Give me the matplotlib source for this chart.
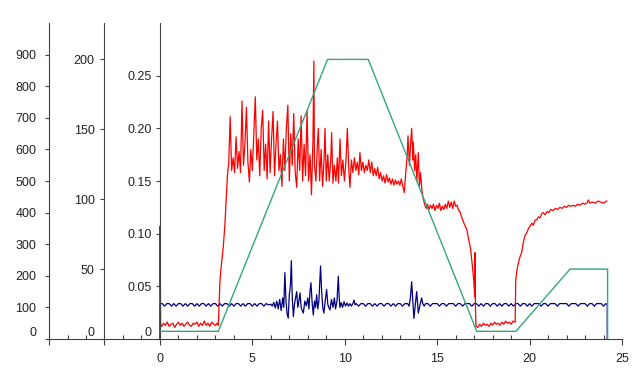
import numpy as np
import matplotlib.pyplot as plt
from matplotlib.ticker import MultipleLocator

plt.rcParams['font.family'] = ['Liberation Sans', 'DejaVu Sans']
plt.rcParams['font.size'] = 9

# ---- green trace (middle axis, 0..200) ----
green_t = [0.0, 3.16, 9.07, 11.27, 17.14, 19.26, 22.19, 24.22, 24.22]
green_v = [5.5, 5.5, 200, 200, 5.5, 5.5, 50, 50, 0]

# ---- red trace (inner axis, 0..0.30), read as (time, value) ----
red_start = [(0.0, 0.0), (0.0, 0.107), (0.02, 0.060), (0.04, 0.014)]
red_idle = [(0.1, .012), (0.2, .015), (0.3, .013), (0.4, .016), (0.5, .012),
            (0.6, .014), (0.7, .015), (0.8, .011), (0.9, .014), (1.0, .016),
            (1.1, .013), (1.2, .015), (1.3, .012), (1.4, .014), (1.5, .016),
            (1.6, .013), (1.7, .012), (1.8, .015), (1.9, .014), (2.0, .016),
            (2.1, .012), (2.2, .015), (2.3, .013), (2.4, .017), (2.5, .013),
            (2.6, .015), (2.7, .012), (2.8, .016), (2.9, .014), (3.0, .013),
            (3.1, .015)]
red_rise = [(3.16, .013), (3.25, .056), (3.35, .075), (3.43, .088), (3.52, .110),
            (3.58, .130), (3.65, .155), (3.70, .164)]
red_noisy = [
    (3.72, .165), (3.80, .211), (3.88, .160), (3.96, .172), (4.04, .158),
    (4.12, .192), (4.20, .162), (4.28, .178), (4.36, .158), (4.44, .226),
    (4.52, .165), (4.60, .185), (4.68, .220), (4.76, .168), (4.84, .149),
    (4.92, .180), (5.00, .160), (5.08, .195), (5.16, .230), (5.24, .170),
    (5.32, .190), (5.40, .155), (5.48, .200), (5.56, .217), (5.64, .160),
    (5.72, .185), (5.80, .152), (5.88, .207), (5.96, .158), (6.04, .190),
    (6.12, .216), (6.20, .155), (6.28, .185), (6.36, .207), (6.44, .160),
    (6.52, .175), (6.60, .145), (6.68, .190), (6.76, .160), (6.84, .200),
    (6.92, .222), (7.00, .150), (7.08, .195), (7.16, .165), (7.24, .214),
    (7.32, .158), (7.40, .144), (7.48, .190), (7.56, .160), (7.64, .212),
    (7.72, .150), (7.80, .185), (7.88, .155), (7.96, .217), (8.04, .150),
    (8.12, .175), (8.20, .137), (8.28, .190), (8.33, .264), (8.36, .165),
    (8.44, .150), (8.52, .185), (8.57, .200), (8.64, .150), (8.72, .180),
    (8.80, .145), (8.88, .170), (8.93, .200), (9.00, .150), (9.08, .175),
    (9.16, .150), (9.24, .170), (9.29, .196), (9.36, .148), (9.44, .165),
    (9.52, .150), (9.60, .172), (9.66, .148), (9.74, .190), (9.82, .155),
    (9.90, .170), (9.98, .150), (10.06, .168), (10.14, .200), (10.22, .160),
    (10.28, .144), (10.36, .170), (10.44, .158), (10.52, .172), (10.60, .160),
    (10.68, .168), (10.76, .156), (10.82, .177), (10.90, .160), (10.98, .168),
    (11.06, .158), (11.14, .165), (11.22, .160), (11.30, .170), (11.38, .158),
    (11.46, .168), (11.54, .155), (11.62, .162), (11.70, .155), (11.78, .163),
    (11.86, .152), (11.94, .158), (12.02, .150), (12.10, .155), (12.18, .148),
    (12.26, .156), (12.34, .149), (12.42, .153), (12.50, .147), (12.58, .152),
    (12.66, .146), (12.74, .151), (12.82, .147), (12.90, .150), (12.98, .146),
    (13.06, .152), (13.14, .145), (13.22, .139), (13.30, .158), (13.38, .175),
    (13.42, .193), (13.50, .165), (13.56, .185), (13.62, .200), (13.68, .170),
    (13.71, .187), (13.78, .160), (13.84, .175), (13.90, .150), (13.98, .177),
    (14.04, .145), (14.10, .158), (14.18, .140), (14.25, .133), (14.32, .128)]
red_shelf = [
    (14.40, .124), (14.48, .128), (14.56, .123), (14.64, .127), (14.72, .124),
    (14.80, .128), (14.88, .122), (14.96, .127), (15.04, .124), (15.12, .129),
    (15.20, .122), (15.28, .126), (15.36, .123), (15.44, .128), (15.52, .124),
    (15.60, .131), (15.68, .125), (15.76, .130), (15.84, .124), (15.92, .131),
    (16.00, .126), (16.08, .127), (16.16, .122), (16.23, .121)]
red_fall = [(16.32, .116), (16.42, .111), (16.50, .108), (16.60, .104), (16.70, .095),
            (16.81, .085), (16.90, .070), (16.99, .053), (17.03, .040), (17.05, .082),
            (17.07, .030), (17.10, .012)]
red_low = [(17.2, .011), (17.3, .014), (17.4, .012), (17.5, .015), (17.6, .013),
           (17.7, .014), (17.8, .012), (17.9, .015), (18.0, .013), (18.1, .016),
           (18.2, .014), (18.3, .015), (18.4, .013), (18.5, .016), (18.6, .014),
           (18.7, .017), (18.8, .015), (18.9, .016), (19.0, .014), (19.1, .017),
           (19.22, .016)]
red_recover = [
    (19.25, .056), (19.32, .066), (19.39, .072), (19.48, .078), (19.57, .082),
    (19.66, .092), (19.75, .098), (19.85, .101), (19.94, .105), (20.02, .107),
    (20.12, .110), (20.20, .108), (20.30, .113), (20.38, .113), (20.48, .116),
    (20.56, .115), (20.66, .119), (20.74, .120), (20.84, .118), (20.94, .121),
    (21.04, .120), (21.14, .123), (21.28, .122), (21.40, .124), (21.52, .123),
    (21.64, .125), (21.76, .124), (21.88, .126), (22.00, .125), (22.12, .127),
    (22.24, .126), (22.36, .127), (22.48, .126), (22.60, .128), (22.73, .127),
    (22.86, .129), (22.98, .128), (23.10, .129), (23.18, .132), (23.26, .129),
    (23.40, .130), (23.55, .129), (23.70, .131), (23.85, .130), (24.00, .129),
    (24.17, .131)]

# ---- blue trace (outer axis, 0..1000) ----
blue_start = [(0.0, 0.0), (0.0, 112)]
# quiet stretches, sampled every 0.125 s
blue_step = 0.125
blue_idle_v = [112, 104, 112, 112, 104, 112, 104, 112, 112, 104, 112, 104, 112, 112,
               104, 112, 104, 112, 112, 104, 112, 104, 112, 112, 104, 112, 104, 112,
               112, 104, 112, 104, 112, 112, 104, 112, 104, 112, 112, 104, 112, 104,
               112, 112, 104, 112, 108]
blue_burst1 = [
    (6.00, 110), (6.08, 104), (6.16, 116), (6.24, 98), (6.32, 120), (6.40, 95),
    (6.48, 125), (6.56, 90), (6.64, 130), (6.70, 100), (6.76, 210), (6.82, 120),
    (6.88, 80), (6.94, 66), (7.00, 140), (7.06, 170), (7.11, 248), (7.16, 130),
    (7.22, 71), (7.28, 110), (7.34, 130), (7.40, 150), (7.46, 100), (7.52, 120),
    (7.58, 146), (7.64, 100), (7.70, 90), (7.76, 82), (7.84, 120), (7.92, 105),
    (8.00, 130), (8.06, 95), (8.12, 150), (8.17, 178), (8.24, 110), (8.30, 76),
    (8.36, 120), (8.42, 100), (8.48, 140), (8.54, 95), (8.60, 120), (8.65, 180),
    (8.69, 231), (8.75, 150), (8.81, 100), (8.87, 82), (8.94, 120), (9.02, 157),
    (9.08, 110), (9.14, 100), (9.20, 92), (9.28, 125), (9.36, 100), (9.44, 130),
    (9.50, 95), (9.58, 120), (9.65, 199), (9.70, 130), (9.74, 100), (9.80, 115),
    (9.88, 100), (9.96, 118), (10.04, 104), (10.12, 114), (10.20, 104),
    (10.28, 112), (10.36, 104), (10.44, 112), (10.50, 123), (10.56, 108)]
blue_mid_v = [112, 104, 112, 112, 104, 112, 112, 104, 112, 104, 112, 112, 104, 112,
              112, 104, 112, 104, 112, 112, 104, 112, 112]
blue_burst2 = [
    (13.40, 112), (13.48, 104), (13.55, 130), (13.62, 181), (13.68, 120),
    (13.74, 65), (13.80, 100), (13.89, 150), (13.94, 110), (13.98, 82),
    (14.06, 105), (14.16, 130), (14.22, 112), (14.30, 104)]
blue_tail_v = [112, 112, 104, 112, 112, 112, 104, 112, 112, 104, 112, 112, 112, 104,
               112, 112, 104, 112, 112, 112, 104, 112, 112, 104, 112, 104, 112, 112,
               104, 112, 112, 104, 112, 104, 112, 112, 104, 112, 104, 112, 112, 104,
               112, 112, 104, 112, 104, 112, 112, 112, 104, 112, 112, 104, 112, 112,
               112, 104, 112, 112, 112, 112, 104, 112, 112, 112, 104, 112, 112, 112,
               104, 112, 112, 104, 112, 112, 112, 104, 112]
blue_end = [(24.2, 110), (24.2, 0)]


def pairs(seq):
    t, v = zip(*seq)
    return list(t), list(v)


def grid(t0, vals):
    return [(t0 + blue_step * i, v) for i, v in enumerate(vals)]


red_t, red_v = pairs(red_start + red_idle + red_rise + red_noisy + red_shelf
                     + red_fall + red_low + red_recover)
blue_t, blue_v = pairs(blue_start + grid(0.125, blue_idle_v) + blue_burst1
                       + grid(10.625, blue_mid_v) + blue_burst2
                       + grid(14.375, blue_tail_v) + blue_end)

spine_col = '#404040'
text_col = '#222222'

fig = plt.figure(figsize=(6.4, 3.82), dpi=100)
ax = fig.add_axes([0.0766, 0.1126, 0.8953, 0.827])
ax.set_xlim(-6, 25)

# outer axis (blue)
ax.set_ylim(0, 1000)
ax.plot(blue_t, blue_v, color='#000080', lw=0.9, zorder=3)

# inner axis at x=0 (red)
ax_red = ax.twinx()
ax_red.set_ylim(0, 0.30)
ax_red.plot(red_t, red_v, color='#ff0000', lw=0.9)

# middle axis at x=-3 (green)
ax_grn = ax.twinx()
ax_grn.set_ylim(0, 226)
ax_grn.plot(green_t, green_v, color='#33a680', lw=1.0)

for a in (ax, ax_red, ax_grn):
    for s in ('top', 'right'):
        a.spines[s].set_visible(False)
    a.spines['left'].set_visible(True)
    a.spines['left'].set_color(spine_col)
    a.spines['bottom'].set_color(spine_col)
    a.yaxis.set_ticks_position('left')
    a.tick_params(axis='y', direction='out', length=3, width=0.8,
                  colors=spine_col, labelcolor=text_col, labelsize=9)
for a in (ax_red, ax_grn):
    a.spines['bottom'].set_visible(False)
    a.patch.set_visible(False)

ax_red.spines['left'].set_position(('data', 0))
ax_grn.spines['left'].set_position(('data', -3))

outer_ticks = [0, 100, 200, 300, 400, 500, 600, 700, 800, 900]
mid_ticks = [0, 50, 100, 150, 200]
inner_ticks = [0, 0.05, 0.10, 0.15, 0.20, 0.25]
inner_labels = ['0', '0.05', '0.10', '0.15', '0.20', '0.25']

ax.set_yticks(outer_ticks, labels=[str(v) for v in outer_ticks])
ax.tick_params(axis='y', pad=6)
ax_grn.set_yticks(mid_ticks, labels=[str(v) for v in mid_ticks])
ax_grn.tick_params(axis='y', pad=4)
ax_red.set_yticks(inner_ticks, labels=inner_labels)
ax_red.tick_params(axis='y', pad=3)

for a in (ax, ax_red, ax_grn):
    a.get_yticklabels()[0].set_va('bottom')

x_major = [-6, -3, 0, 5, 10, 15, 20, 25]
x_labels = ['', '', '0', '5', '10', '15', '20', '25']
ax.set_xticks(x_major, labels=x_labels)
ax.xaxis.set_minor_locator(MultipleLocator(1))
ax.tick_params(axis='x', which='major', direction='out', length=4, width=0.8,
               colors=spine_col, labelcolor=text_col, labelsize=9, pad=6)
ax.tick_params(axis='x', which='minor', direction='in', length=3, width=0.8,
               colors=spine_col)

fig.savefig('out.png', dpi=100)
